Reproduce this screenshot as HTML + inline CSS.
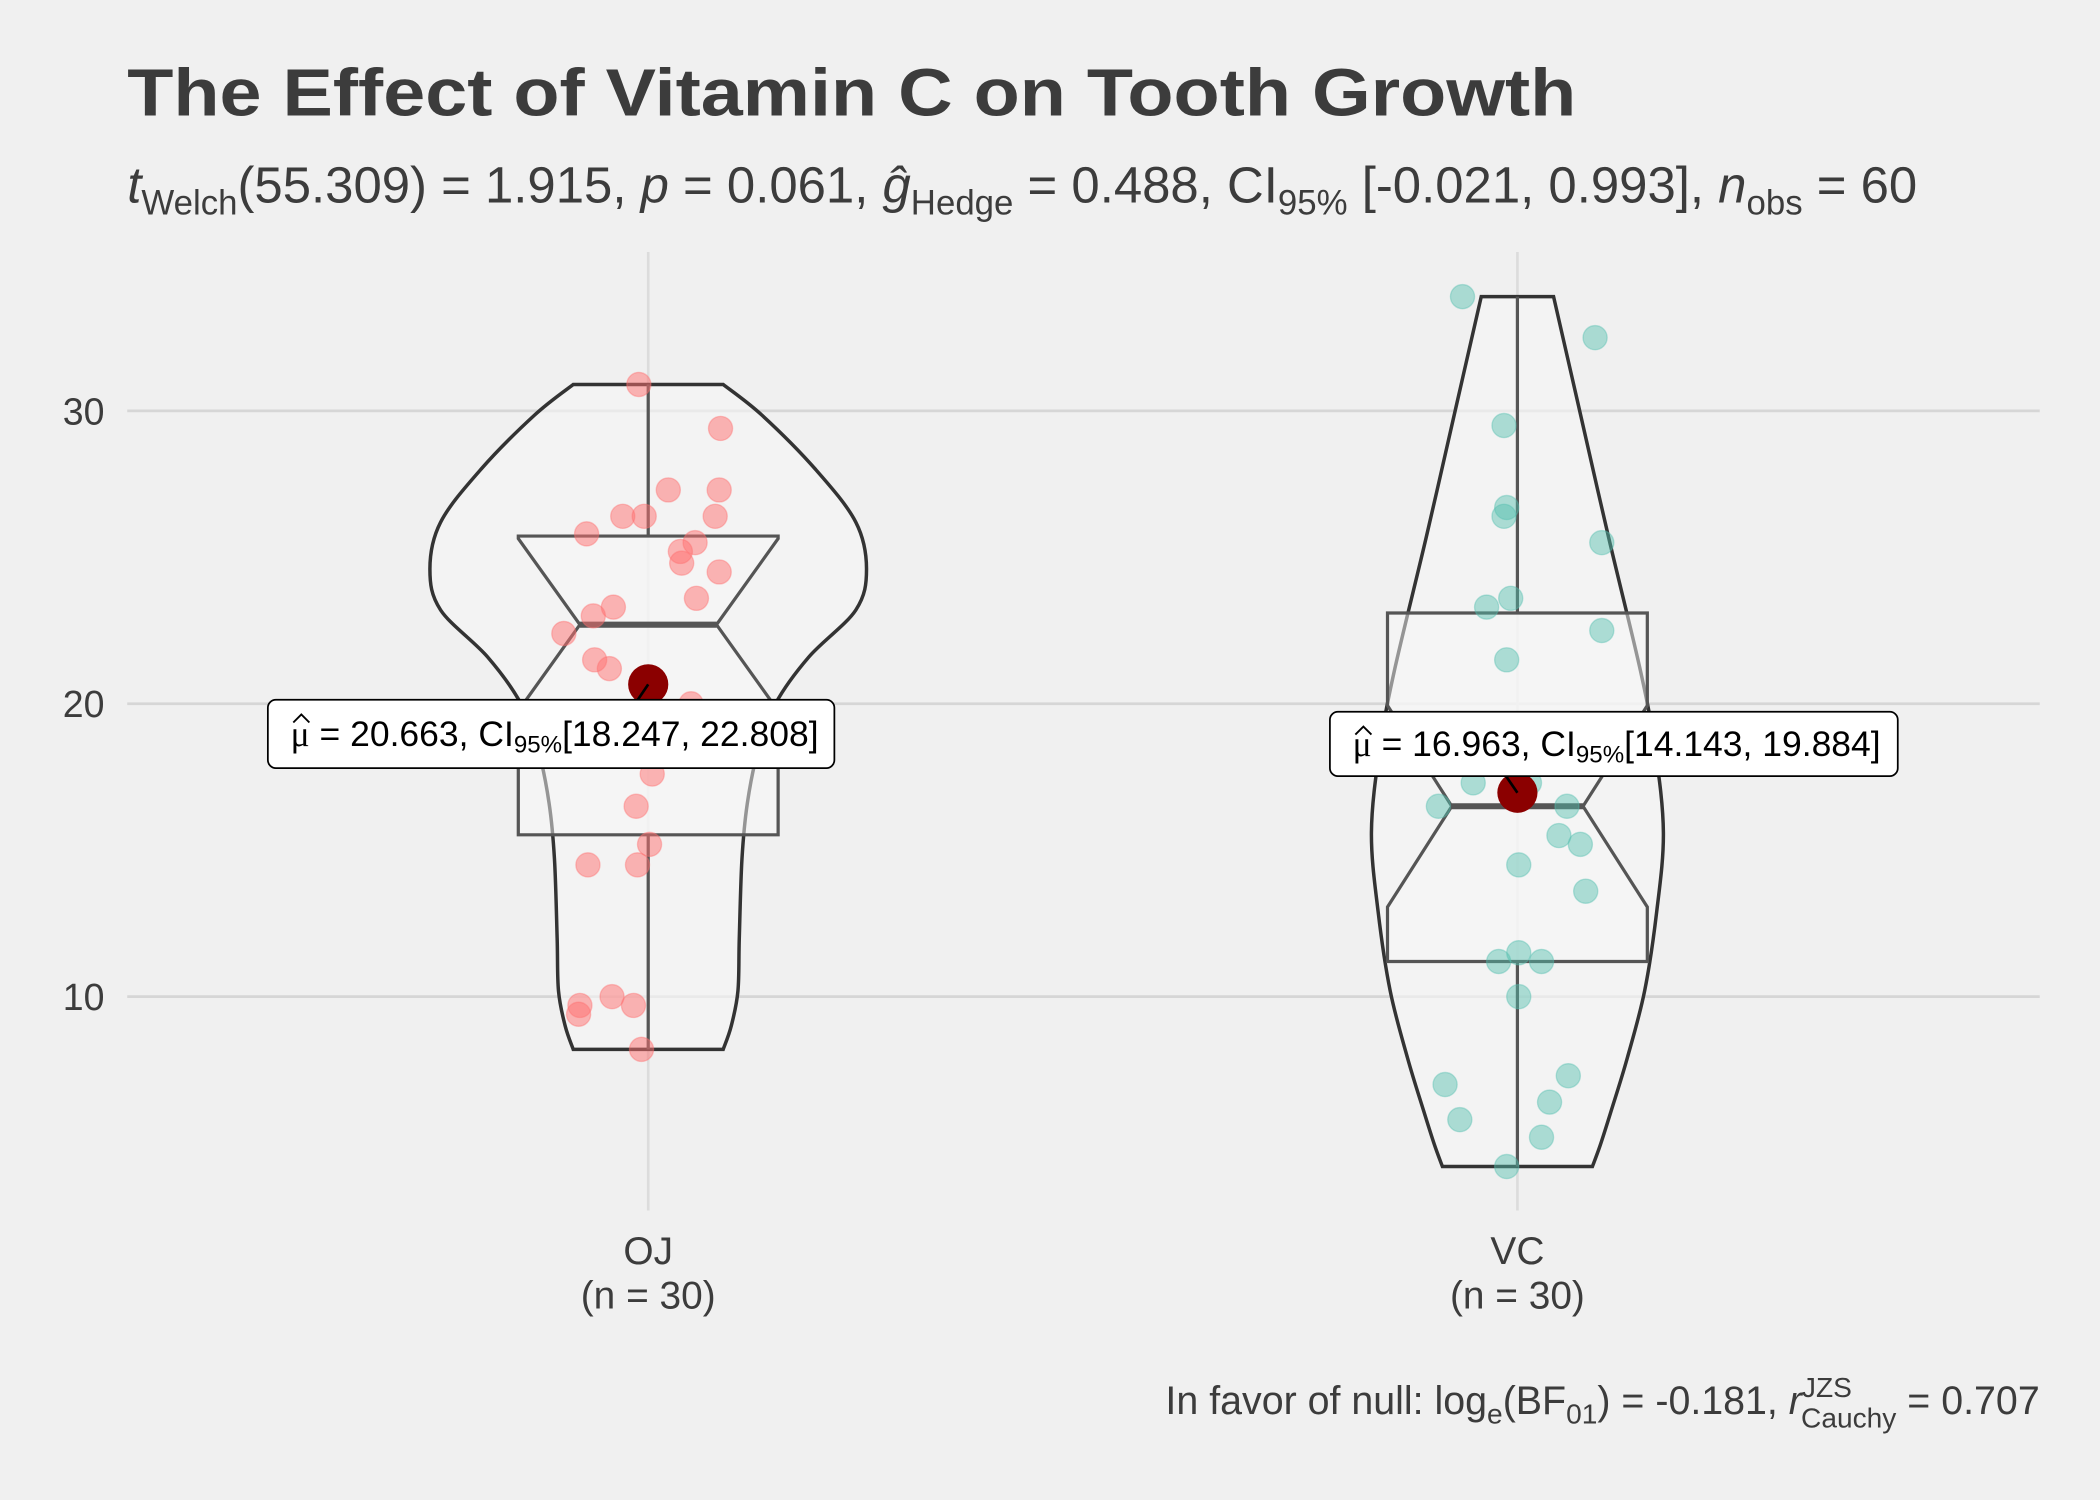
<!DOCTYPE html>
<html><head><meta charset="utf-8"><style>
html,body{margin:0;padding:0;background:#F0F0F0;}
svg{display:block;font-family:"Liberation Sans",Arial,sans-serif;}
</style></head><body>
<svg id="chart" width="2100" height="1500" viewBox="0 0 1568 1119" preserveAspectRatio="none" xmlns="http://www.w3.org/2000/svg">
<rect x="0" y="0" width="1568" height="1119" fill="#F0F0F0"/>
<g id="grid"></g>
<g id="violins"></g>
<g id="boxes"></g>
<g id="points"></g>
<g id="means"></g>
<g id="axes"></g>
<text x="95" y="86" font-size="50" font-weight="bold" fill="#3c3c3c" textLength="1082" lengthAdjust="spacingAndGlyphs">The Effect of Vitamin C on Tooth Growth</text>
<text x="95" y="151" font-size="38" fill="#3c3c3c"><tspan font-style="italic">t</tspan><tspan font-size="26" dy="9">Welch</tspan><tspan dy="-9">(55.309) = 1.915, </tspan><tspan font-style="italic">p</tspan><tspan> = 0.061, </tspan><tspan font-style="italic">ĝ</tspan><tspan font-size="26" dy="9">Hedge</tspan><tspan dy="-9"> = 0.488, CI</tspan><tspan font-size="26" dy="9">95%</tspan><tspan dy="-9"> [-0.021, 0.993], </tspan><tspan font-style="italic">n</tspan><tspan font-size="26" dy="9">obs</tspan><tspan dy="-9"> = 60</tspan></text>
<text x="1523" y="1055" font-size="29.4" fill="#3c3c3c" text-anchor="end">In favor of null: log<tspan font-size="21" dy="7">e</tspan><tspan dy="-7">(BF</tspan><tspan font-size="21" dy="7">01</tspan><tspan dy="-7">) = -0.181, </tspan><tspan font-style="italic">r</tspan><tspan font-size="21" dy="-13">JZS</tspan><tspan font-size="21" dx="-38" dy="23">Cauchy</tspan><tspan dy="-10"> = 0.707</tspan></text>
</svg>
<script>
const categories = ["OJ", "VC"];
const ojValues = [30.9,29.4,27.3,27.3,26.4,26.4,26.4,25.8,25.5,25.2,24.8,24.5,23.6,23.3,23.0,22.4,21.5,21.2,20.0,19.7,17.6,16.5,15.2,14.5,14.5,10.0,9.7,9.7,9.4,8.2];
const ojJitter = [-7,54,15,53,-19,-3,50,-46,35,24,25,53,36,-26,-41,-63,-40,-29,32,10,3,-9,1,-45,-8,-27,-51,-11,-52,-5];
const vcValues = [33.9,32.5,29.5,26.7,26.4,25.5,23.6,23.3,22.5,21.5,18.8,18.5,17.3,17.3,16.5,16.5,15.5,15.2,14.5,13.6,11.5,11.2,11.2,10.0,7.3,7.0,6.4,5.8,5.2,4.2];
const vcJitter = [-41,58,-10,-8,-10,63,-5,-23,63,-8,20,-15,-33,9,-59,37,31,47,1,51,1,-14,18,1,38,-54,24,-43,18,-8];
const whiskerLow = [8.2, 4.2];
const whiskerHigh = [30.9, 33.9];
const q1 = [15.525, 11.2];
const q3 = [25.725, 23.1];
const medians = [22.7, 16.5];
const notchLow = [19.76, 13.06];
const notchHigh = [25.64, 19.94];
const means = [20.663, 16.963];
const meanLabels = ["20.663, CI", "16.963, CI"];
const ciLabels = ["[18.247, 22.808]", "[14.143, 19.884]"];
const ojViolinV = [30.9,29.85,28.0,26.2,24.6,23.2,21.6,20.0,18.4,16.6,14.7,12.0,10.2,9.0,8.2];
const ojViolinW = [56,85,125,155,163,155,120,95,82,74,70,68,67,62,56];
const vcViolinV = [33.9,30.3,25.7,21.1,18.4,15.6,12.9,10.2,7.9,6.1,4.95,4.2];
const vcViolinW = [27,45,68,92,103,109,104,95,82,70,62,56];
const yTicks = [10, 20, 30];

const NS = "http://www.w3.org/2000/svg";
function yS(v){ return 525 - (v - 20) * 21.85; }
function xS(i){ return 484 + i * 649; }
function el(tag, attrs, parent){ const e=document.createElementNS(NS,tag); for(const k in attrs) e.setAttribute(k, attrs[k]); parent.appendChild(e); return e; }

const grid=document.getElementById('grid');
yTicks.forEach(t=>{
  const l=el('line',{x1:95,x2:1523,y1:yS(t),y2:yS(t),stroke:'#d6d6d6','stroke-width':2},grid);
  
  
});
categories.forEach((c,i)=>{
  const l=el('line',{x1:xS(i),x2:xS(i),y1:188,y2:903,stroke:'#dcdcdc','stroke-width':2},grid);
  
  
});

function catmull(arr){
  let d='';
  for(let k=0;k<arr.length-1;k++){
    const p0=arr[Math.max(0,k-1)],p1=arr[k],p2=arr[k+1],p3=arr[Math.min(arr.length-1,k+2)];
    const c1=[p1[0]+(p2[0]-p0[0])/6,p1[1]+(p2[1]-p0[1])/6];
    const c2=[p2[0]-(p3[0]-p1[0])/6,p2[1]-(p3[1]-p1[1])/6];
    d+=` C${c1[0]},${c1[1]} ${c2[0]},${c2[1]} ${p2[0]},${p2[1]}`;
  }
  return d;
}
const vg=document.getElementById('violins');
[[ojViolinV,ojViolinW],[vcViolinV,vcViolinW]].forEach((vw,i)=>{
  const [vs,ws]=vw; const cx=xS(i);
  const right=vs.map((v,k)=>[cx+ws[k], yS(v)]);
  const left=vs.map((v,k)=>[cx-ws[k], yS(v)]).reverse();
  let d='M'+right[0][0]+','+right[0][1]+catmull(right)+' L'+left[0][0]+','+left[0][1]+catmull(left)+' Z';
  const p=el('path',{d:d,fill:'#f5f5f5','fill-opacity':0.6,stroke:'#333','stroke-width':2.6},vg);
  
  
});

const bg=document.getElementById('boxes');
categories.forEach((c,i)=>{
  const cx=xS(i), hw=97, nw= i===0?51:49;
  const l1=el('line',{x1:cx,x2:cx,y1:yS(whiskerHigh[i]),y2:yS(q3[i]),stroke:'#555','stroke-width':2.4},bg);
  
  
  const l2=el('line',{x1:cx,x2:cx,y1:yS(q1[i]),y2:yS(whiskerLow[i]),stroke:'#555','stroke-width':2.4},bg);
  
  
  const yu=yS(q3[i]), yl=yS(q1[i]), ym=yS(medians[i]), nu=yS(notchHigh[i]), nl=yS(notchLow[i]);
  const d=`M${cx-hw},${yu} L${cx-hw},${nu} L${cx-nw},${ym} L${cx-hw},${nl} L${cx-hw},${yl} L${cx+hw},${yl} L${cx+hw},${nl} L${cx+nw},${ym} L${cx+hw},${nu} L${cx+hw},${yu} Z`;
  const b=el('path',{d:d,fill:'#f7f7f7','fill-opacity':0.5,stroke:'#555','stroke-width':2.4},bg);
  
  
  const m=el('line',{x1:cx-nw,x2:cx+nw,y1:ym,y2:ym,stroke:'#555','stroke-width':4.5},bg);
  
  
});

const pg=document.getElementById('points');
ojValues.forEach((v,k)=>{
  const c=el('circle',{cx:xS(0)+ojJitter[k],cy:yS(v),r:9,fill:'#ff6f6f','fill-opacity':0.5,stroke:'#ff6f6f','stroke-opacity':0.4},pg);
  
  
});
vcValues.forEach((v,k)=>{
  const c=el('circle',{cx:xS(1)+vcJitter[k],cy:yS(v),r:9,fill:'#52bfae','fill-opacity':0.45,stroke:'#52bfae','stroke-opacity':0.4},pg);
  
  
});

const mg=document.getElementById('means');
const boxPos=[[200,522,423,51],[993,531,424,48]];
categories.forEach((c,i)=>{
  const cx=xS(i), cy=yS(means[i]);
  const pt=el('circle',{cx:cx,cy:cy,r:15,fill:'#8B0000'},mg);
  
  
  const [bx,by,bw,bh]=boxPos[i];
  const ln=el('line',{x1:cx,y1:cy,x2:cx-25,y2:by+bh/2,stroke:'#000','stroke-width':2},mg);
  
  
  const r=el('rect',{x:bx,y:by,width:bw,height:bh,rx:6,fill:'#fff',stroke:'#000','stroke-width':1.3},mg);
  
  
  const hat=el('path',{d:`M${bx+19},${by+17} L${bx+25},${by+11} L${bx+31},${by+17}`,fill:'none',stroke:'#000','stroke-width':1.4},mg);
  
  
  const t=el('text',{x:bx+17,y:by+bh/2+9,'font-size':26.5,fill:'#000'},mg);
  
  
  t.innerHTML='<tspan font-family="Liberation Serif, serif">μ</tspan> = '+meanLabels[i]+'<tspan font-size="18" dy="5">95%</tspan><tspan dy="-5">'+ciLabels[i]+'</tspan>';
});

const ag=document.getElementById('axes');
yTicks.forEach(t=>{
  const tx=el('text',{x:78,y:yS(t)+10,'font-size':28,'text-anchor':'end',fill:'#3c3c3c'},ag);
  
  
  tx.textContent=t;
});
categories.forEach((c,i)=>{
  const a=el('text',{x:xS(i),y:943,'font-size':29,'text-anchor':'middle',fill:'#3c3c3c'},ag);
  
  
  a.textContent=c;
  const b=el('text',{x:xS(i),y:976,'font-size':29,'text-anchor':'middle',fill:'#3c3c3c'},ag);
  
  
  b.textContent='(n = 30)';
});
</script>
</body></html>
